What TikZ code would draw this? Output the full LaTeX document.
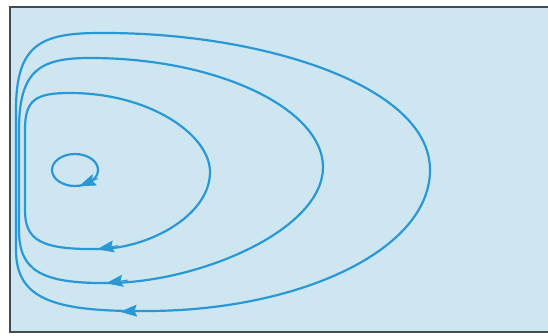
\documentclass[tikz,border=0pt]{standalone}
\usetikzlibrary{arrows.meta}
\definecolor{paper}{RGB}{206,230,240}
\definecolor{flow}{RGB}{42,152,212}
\definecolor{frame}{RGB}{70,75,80}
\tikzset{
  loop/.style={draw=flow, line width=2.2pt, line join=round},
  tip/.style={draw=flow, line width=1pt, -{Stealth[length=17pt,width=12pt,inset=2.5pt]}},
}
\begin{document}
\begin{tikzpicture}[x=1pt,y=-1pt]
\useasboundingbox (0,0) rectangle (548,336);
\clip (0,0) rectangle (548,336);
\fill[white] (0,0) rectangle (548,336);
\filldraw[fill=paper, draw=frame, line width=1.6pt] (10,7) rectangle (560,332);
% outer loop
\path[loop] (16,170) -- (16,110) .. controls (16,45) and (40,33) .. (100,33)
  .. controls (260,32) and (430,85) .. (430,170)
  .. controls (430,250) and (300,310) .. (150,311)
  .. controls (55,312) and (16,300) .. (16,250) -- cycle;
% middle loop
\path[loop] (19,170) -- (19,130) .. controls (19,70) and (40,58) .. (90,58)
  .. controls (220,58) and (323,110) .. (323,167)
  .. controls (323,230) and (200,282) .. (110,283)
  .. controls (40,284) and (19,270) .. (19,230) -- cycle;
% inner loop
\path[loop] (25,170) -- (25,130) .. controls (25,100) and (35,93) .. (70,93)
  .. controls (150,93) and (210,135) .. (210,172)
  .. controls (210,215) and (150,248) .. (100,249)
  .. controls (40,250) and (25,240) .. (25,210) -- cycle;
% small loop
\path[loop] (75,170) ellipse [x radius=23, y radius=16];
% arrowheads
\coordinate (a1s) at (140,310.5); \coordinate (a1e) at (120,311.8);
\coordinate (a2s) at (128,280); \coordinate (a2e) at (106,283.3);
\coordinate (a3s) at (118,245.6); \coordinate (a3e) at (97,249.4);
\coordinate (a4s) at (98,178.5); \coordinate (a4e) at (79,186.2);
\draw[tip] (a1s) -- (a1e);
\draw[tip] (a2s) -- (a2e);
\draw[tip] (a3s) -- (a3e);
\draw[tip] (a4s) -- (a4e);
\end{tikzpicture}
\end{document}
